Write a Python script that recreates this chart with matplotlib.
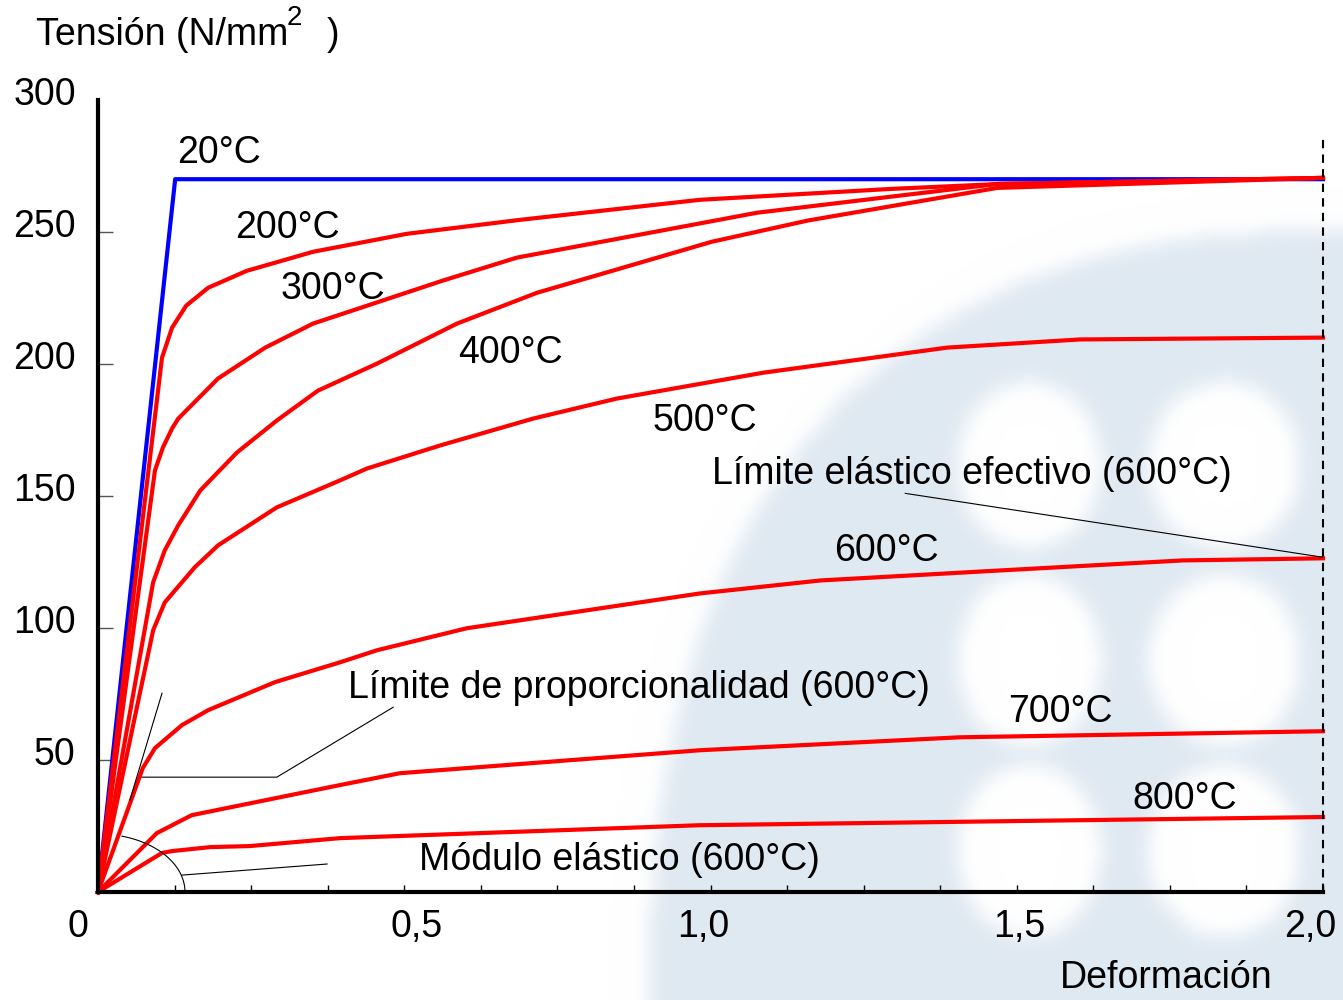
import numpy as np
import matplotlib
matplotlib.use("Agg")
import matplotlib.pyplot as plt
from matplotlib.transforms import ScaledTranslation

plt.rcParams['font.family'] = ['Liberation Sans', 'DejaVu Sans']

# --- data (strain, stress N/mm2) ---
x_20 = [0.0, 0.126, 2.0]
y_20 = [0.0, 270.0, 270.0]

x_200 = [0.0, 0.1045, 0.121, 0.144, 0.180, 0.243, 0.351, 0.504, 0.689, 0.983, 1.293, 1.473, 2.0]
y_200 = [0.0, 202.4, 213.8, 222.1, 228.9, 235.3, 242.5, 249.3, 254.6, 262.2, 266.3, 268.2, 270.5]

x_300 = [0.0, 0.093, 0.106, 0.121, 0.131, 0.196, 0.273, 0.351, 0.563, 0.684, 1.076, 1.468, 2.0]
y_300 = [0.0, 159.7, 168.4, 175.6, 179.3, 194.5, 206.2, 215.3, 231.6, 240.3, 257.3, 268.2, 270.5]

x_400 = [0.0, 0.090, 0.109, 0.131, 0.167, 0.227, 0.292, 0.359, 0.456, 0.586, 0.717, 1.002, 1.158, 1.468, 2.0]
y_400 = [0.0, 117.3, 129.4, 138.9, 152.1, 166.5, 178.6, 189.9, 200.2, 215.3, 227.0, 246.3, 254.3, 266.7, 270.5]

x_500 = [0.0, 0.090, 0.109, 0.158, 0.196, 0.292, 0.395, 0.439, 0.558, 0.710, 0.847, 1.086, 1.386, 1.603, 2.0]
y_500 = [0.0, 99.1, 109.7, 123.0, 131.3, 145.7, 155.9, 160.4, 169.1, 179.3, 186.9, 196.7, 206.2, 209.3, 210.0]

x_600 = [0.0, 0.073, 0.093, 0.137, 0.180, 0.289, 0.395, 0.456, 0.602, 0.983, 1.179, 1.473, 1.771, 2.0]
y_600 = [0.0, 46.9, 54.5, 63.2, 68.9, 79.5, 87.0, 91.6, 99.9, 113.1, 118.0, 121.8, 125.6, 126.4]

x_700 = [0.0, 0.096, 0.153, 0.395, 0.493, 0.983, 1.407, 2.0]
y_700 = [0.0, 22.3, 29.1, 40.5, 45.0, 53.7, 58.6, 60.9]

x_800 = [0.0, 0.1045, 0.121, 0.183, 0.248, 0.395, 0.983, 2.0]
y_800 = [0.0, 14.8, 15.5, 17.0, 17.4, 20.4, 25.3, 28.4]

red_series = [(x_200, y_200), (x_300, y_300), (x_400, y_400), (x_500, y_500),
              (x_600, y_600), (x_700, y_700), (x_800, y_800)]

curve_labels = ["20°C", "200°C", "300°C", "400°C", "500°C", "600°C", "700°C", "800°C"]
label_pos = [(0.198, 280.0), (0.310, 251.5), (0.384, 228.5), (0.674, 204.0),
             (0.991, 178.5), (1.287, 129.3), (1.572, 68.0), (1.775, 35.4)]

x_ticks = [0.0, 0.5, 1.0, 1.5, 2.0]
x_ticklabels = ["0", "0,5", "1,0", "1,5", "2,0"]
x_label_shift = [-20, 12, -7, 3, -13]   # px, as placed in the original
y_ticks = [50, 100, 150, 200, 250, 300]
y_ticklabels = ["50", "100", "150", "200", "250", "300"]

RED = "#FF0000"
BLUE = "#0000FF"
FS = 27

W, H = 1343, 1000
fig = plt.figure(figsize=(W / 100, H / 100), dpi=100)

# faint watermark in the background
bg = fig.add_axes([0, 0, 1, 1], zorder=0)
bg.axis('off')
step = 5
gx = np.arange(0, W, step) + step / 2
gy = np.arange(0, H, step) + step / 2
X, Y = np.meshgrid(gx, gy)
mask = ((np.abs(X - 1360) / 710) ** 2.5 + (np.abs(Y - 1030) / 800) ** 2.5 < 1).astype(float)
for cx, cy, rx, ry in [(1031, 465, 72, 83), (1226, 465, 76, 83),
                       (1031, 660, 72, 86), (1226, 660, 76, 86),
                       (1031, 851, 72, 86), (1226, 851, 76, 86)]:
    mask[((X - cx) / rx) ** 2 + ((Y - cy) / ry) ** 2 < 1] = 0.0
for _ in range(8):
    p = np.pad(mask, 1, mode='edge')
    mask = (p[1:-1, 1:-1] + p[:-2, 1:-1] + p[2:, 1:-1] + p[1:-1, :-2] + p[1:-1, 2:]) / 5
wm = np.array([0.878, 0.914, 0.947])
img = 1 - mask[..., None] * (1 - wm)
bg.imshow(img, extent=(0, W, H, 0), interpolation='bilinear', aspect='auto')
bg.set_xlim(0, W)
bg.set_ylim(H, 0)

ax = fig.add_axes([98 / W, 108 / H, 1225 / W, 792 / H], zorder=1)
ax.patch.set_alpha(0)
ax.set_xlim(0, 2.0)
ax.set_ylim(0, 300)

ax.plot(x_20, y_20, color=BLUE, lw=3, solid_joinstyle='round', clip_on=False)
for xs, ys in red_series:
    ax.plot(xs, ys, color=RED, lw=3, solid_joinstyle='round', clip_on=False)

# dashed limit at 2.0
ax.plot([2.0, 2.0], [0, 285.5], color='black', lw=1.5, ls=(0, (4, 3)), clip_on=False)

# annotation lines
thin = dict(color='black', lw=0.8)
ax.plot([1.318, 2.0], [151.0, 126.8], **thin)
ax.plot([0.482, 0.292, 0.072], [70.0, 43.5, 43.5], **thin)
ax.plot([0.1045, 0.052], [75.3, 34.8], **thin)
ax.plot([0.137, 0.374], [6.4, 10.6], **thin)
t = np.linspace(0, np.deg2rad(74), 60)
ax.plot(0.142 * np.cos(t), 22.0 * np.sin(t), **thin)

for txt, (px, py) in zip(curve_labels, label_pos):
    ax.text(px, py, txt, fontsize=FS, ha='center', va='center')
ax.text(1.427, 158.4, "Límite elástico efectivo (600°C)", fontsize=FS, ha='center', va='center')
ax.text(0.883, 77.4, "Límite de proporcionalidad (600°C)", fontsize=FS, ha='center', va='center')
ax.text(0.852, 12.0, "Módulo elástico (600°C)", fontsize=FS, ha='center', va='center')

# spines and ticks
for s in ['top', 'right']:
    ax.spines[s].set_visible(False)
ax.spines['left'].set_linewidth(3)
ax.spines['bottom'].set_linewidth(3)

ax.set_xticks(x_ticks)
ax.set_xticklabels(x_ticklabels, fontsize=FS)
ax.set_xticks(np.arange(0.125, 2.0, 0.125), minor=True)
ax.tick_params(axis='x', which='both', direction='in', length=5, width=1, pad=12)
for lab, dx in zip(ax.get_xticklabels(), x_label_shift):
    lab.set_transform(lab.get_transform() + ScaledTranslation(dx / 100, 0, fig.dpi_scale_trans))

ax.set_yticks(y_ticks)
ax.set_yticklabels(y_ticklabels, fontsize=FS)
ax.tick_params(axis='y', direction='in', length=11, width=1, color='#555555', pad=16)
ax.yaxis.get_major_ticks()[-1].tick1line.set_visible(False)
for lab in ax.get_yticklabels():
    lab.set_transform(lab.get_transform() + ScaledTranslation(0, 0.09, fig.dpi_scale_trans))

fig.text(1166 / W, 1 - 978 / H, "Deformación", fontsize=FS, ha='center', va='center')
fig.text(36 / W, 1 - 35 / H, "Tensión (N/mm", fontsize=FS, ha='left', va='center')
fig.text(287 / W, 1 - 18 / H, "2", fontsize=20, ha='left', va='center')
fig.text(327 / W, 1 - 35 / H, ")", fontsize=FS, ha='left', va='center')

fig.savefig("out.png", dpi=100)
